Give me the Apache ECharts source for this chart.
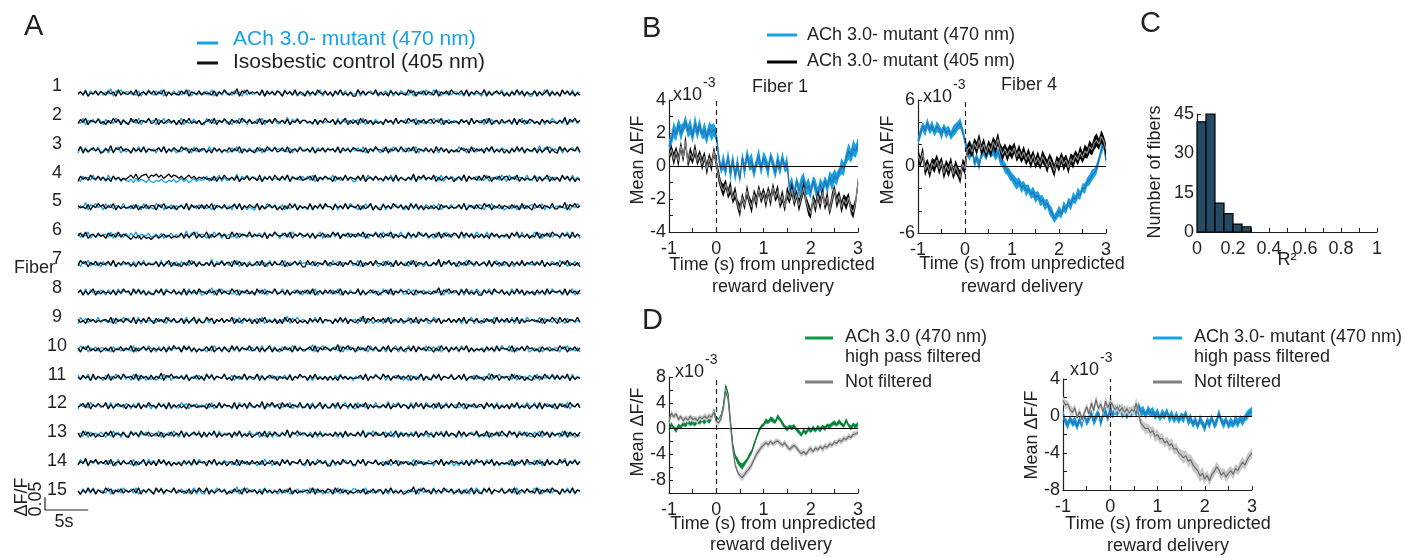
<!DOCTYPE html>
<html>
<head>
<meta charset="utf-8">
<script src="https://cdn.jsdelivr.net/npm/echarts@6/dist/echarts.min.js"></script>
<style>
  html, body { margin: 0; padding: 0; background: #ffffff; }
  #fig { width: 1424px; height: 558px; }
</style>
</head>
<body>
<div id="fig"></div>
<script>
// ---------------- Panel A: raw photometry traces, 15 fibers ----------------
// Each trace is stored as a string of levels (0-9, centre 5); one level = TRACE_STEP dF/F.
const TRACE_STEP = 0.0042;
const TRACE_SECONDS = 58;
const FIBER_LABELS = ['1','2','3','4','5','6','7','8','9','10','11','12','13','14','15'];

const TRACE_405 = [
  '4637254736 5374628364 4738256374 7364826354 3748265473 6453726485 3649275846 5638274637 5274638365 2746385473 6274835362 2847365483 6352746354 3857264736 5382647385 4573826475 4826357462 5263847264 4726358263 6284736253',
  '3748265473 5263847264 2847365483 4826357462 6274835362 4573826475 2746385473 5382647385 4637254736 6453726485 4726358263 6284736253 5274638365 3857264736 7364826354 5374628364 4738256374 5638274637 6352746354 3649275846',
  '4826357462 3649275846 5274638365 4573826475 3857264736 6352746354 7364826354 2746385473 4738256374 4637254736 5638274637 6453726485 5382647385 3748265473 6284736253 5374628364 6274835362 5263847264 4726358263 2847365483',
  '2746385473 6352746354 6859478958 7968579687 5746857465 6453726485 4637254736 5382647385 3748265473 4573826475 5274638365 4738256374 5374628364 3649275846 4826357462 5638274637 3857264736 7364826354 4726358263 6284736253',
  '6453726485 7364826354 4637254736 6274835362 5638274637 3748265473 4573826475 4826357462 5263847264 5382647385 5274638365 4726358263 2746385473 6284736253 6352746354 4738256374 3857264736 5374628364 2847365483 3649275846',
  '4738256374 5274638365 3142514231 3524635243 4726358263 4826357462 2847365483 6453726485 4573826475 4637254736 3857264736 3748265473 7364826354 2746385473 5638274637 6284736253 6352746354 6274835362 5382647385 5374628364',
  '3857264736 4573826475 6352746354 4726358263 5263847264 4637254736 6284736253 4738256374 4826357462 2847365483 6453726485 5382647385 5374628364 3748265473 3649275846 2746385473 5638274637 5274638365 7364826354 6274835362',
  '4726358263 6453726485 6284736253 3748265473 5382647385 5374628364 3857264736 2847365483 4637254736 4738256374 7364826354 4826357462 4573826475 6352746354 3649275846 6274835362 2746385473 5263847264 5274638365 5638274637',
  '6352746354 5638274637 5382647385 2746385473 4726358263 3857264736 4826357462 6274835362 6284736253 5274638365 5263847264 3649275846 4738256374 4573826475 4637254736 3748265473 5374628364 7364826354 6453726485 2847365483',
  '6274835362 4637254736 4826357462 6453726485 6284736253 4738256374 2847365483 4726358263 5374628364 4573826475 3649275846 2746385473 3748265473 5638274637 5263847264 7364826354 5274638365 5382647385 6352746354 3857264736',
  '5374628364 5382647385 5638274637 3649275846 4637254736 2847365483 5274638365 4826357462 6453726485 6274835362 6352746354 4573826475 3857264736 4726358263 3748265473 4738256374 5263847264 6284736253 2746385473 7364826354',
  '4573826475 4826357462 6453726485 5374628364 6352746354 5274638365 5382647385 3649275846 2847365483 4726358263 3748265473 7364826354 4637254736 5263847264 4738256374 3857264736 6284736253 6274835362 5638274637 2746385473',
  '6284736253 3748265473 2746385473 4637254736 4826357462 7364826354 6274835362 4573826475 3649275846 6352746354 5374628364 4738256374 4726358263 6453726485 5274638365 2847365483 5382647385 3857264736 5263847264 5638274637',
  '3649275846 4738256374 4726358263 6284736253 5274638365 6274835362 5638274637 4637254736 2847365483 4826357462 2746385473 3748265473 5263847264 6352746354 4573826475 6453726485 7364826354 5382647385 5374628364 3857264736',
  '5263847264 3857264736 4573826475 2847365483 6453726485 4826357462 5374628364 6352746354 7364826354 5638274637 6284736253 4637254736 6274835362 3649275846 2746385473 4726358263 3748265473 4738256374 5382647385 5274638365'
];

const TRACE_470 = [
  '5638274637 3649275846 6453726485 3748265473 7364826354 4738256374 5374628364 4637254736 6284736253 4726358263 5263847264 4826357462 4573826475 5382647385 3857264736 6352746354 2847365483 6274835362 2746385473 5274638365',
  '5382647385 2746385473 4573826475 6274835362 4826357462 2847365483 5263847264 3748265473 3649275846 6352746354 5638274637 4738256374 5374628364 7364826354 3857264736 5274638365 6284736253 4726358263 6453726485 4637254736',
  '2847365483 4726358263 5263847264 6274835362 5374628364 6284736253 3748265473 5382647385 6453726485 5638274637 4637254736 4738256374 2746385473 7364826354 6352746354 3857264736 4573826475 5274638365 3649275846 4826357462',
  '5274638365 6284736253 2415243142 1324213241 3524135243 4726358263 3649275846 6352746354 5638274637 4738256374 4826357462 2746385473 5263847264 4637254736 4573826475 3748265473 5382647385 2847365483 3857264736 5374628364',
  '3649275846 2847365483 5374628364 3857264736 4738256374 6352746354 6284736253 2746385473 4726358263 5274638365 5382647385 5263847264 4826357462 4573826475 3748265473 5638274637 6274835362 4637254736 7364826354 6453726485',
  '7364826354 5638274637 3748265473 4637254736 3649275846 5263847264 6352746354 4573826475 2746385473 4726358263 4738256374 6453726485 2847365483 4826357462 5274638365 5382647385 6284736253 5374628364 3857264736 6274835362',
  '6274835362 7364826354 5274638365 5638274637 2746385473 3649275846 3748265473 5374628364 5382647385 6453726485 2847365483 4826357462 4738256374 6284736253 4637254736 5263847264 4726358263 6352746354 4573826475 3857264736',
  '5638274637 5274638365 5263847264 2746385473 6274835362 3649275846 6352746354 4573826475 4826357462 7364826354 4738256374 4637254736 2847365483 3857264736 5374628364 5382647385 3748265473 6284736253 6453726485 4726358263',
  '2847365483 6453726485 7364826354 5374628364 3748265473 4637254736 4573826475 4738256374 3649275846 5263847264 5274638365 6284736253 6274835362 4826357462 3857264736 4726358263 2746385473 5382647385 5638274637 6352746354',
  '3857264736 6352746354 5382647385 5274638365 7364826354 5263847264 5638274637 3748265473 2746385473 3649275846 4573826475 5374628364 4726358263 2847365483 4738256374 6284736253 6453726485 4826357462 4637254736 6274835362',
  '7364826354 2746385473 6284736253 5263847264 4738256374 3748265473 4726358263 3857264736 4573826475 6352746354 6274835362 6453726485 4826357462 5274638365 2847365483 4637254736 3649275846 5638274637 5382647385 5374628364',
  '2746385473 5638274637 6274835362 6284736253 3857264736 4738256374 5263847264 4637254736 7364826354 3748265473 4726358263 2847365483 3649275846 5382647385 5274638365 6352746354 5374628364 6453726485 4826357462 4573826475',
  '5638274637 5263847264 3857264736 5382647385 2847365483 5274638365 6453726485 4726358263 4738256374 5374628364 6352746354 3649275846 4573826475 6274835362 7364826354 4826357462 4637254736 2746385473 3748265473 6284736253',
  '3857264736 5374628364 5382647385 7364826354 6453726485 4573826475 6352746354 5263847264 3748265473 2746385473 4826357462 2847365483 4637254736 5638274637 6274835362 5274638365 6284736253 4726358263 4738256374 3649275846',
  '5274638365 5382647385 4738256374 3748265473 4726358263 2746385473 3649275846 6274835362 4637254736 6284736253 5638274637 7364826354 6352746354 5374628364 4826357462 6453726485 2847365483 4573826475 3857264736 5263847264'
];

// ---------------- Panels B and D: event-aligned means (x10^-3 dF/F) ----------------
// Sampled every 0.05 s from -1 s to 3 s around reward delivery.
const TIME = Array.from({ length: 81 }, (_, i) => -1 + i * 0.05);

const F1_470_MEAN = [1.2,1.6,2.2,1.9,2.5,2.0,2.3,2.7,2.1,2.4,1.8,2.6,2.0,2.5,1.9,2.2,1.7,2.3,2.0,2.2,
  1.9,0.6,-0.2,0.3,-0.3,0.6,-0.5,0.4,-0.6,0.2,-0.8,0.5,-0.3,0.7,0.1,0.3,-0.4,0.2,0.6,-0.2,
  0.5,0.2,-0.3,0.6,0.1,-0.4,0.4,-0.2,0.5,-0.1,0.2,-1.4,-1.0,-1.8,-0.9,-1.5,-1.1,-0.8,-1.4,-1.2,
  -1.6,-0.9,-1.3,-1.7,-1.1,-1.5,-0.9,-1.3,-0.7,-1.0,-0.6,-0.8,-0.4,0.0,-0.2,0.5,0.9,0.6,1.1,0.9,1.3];
const F1_405_MEAN = [0.6,1.0,0.4,0.9,0.3,1.2,0.5,1.5,0.2,0.8,0.4,1.0,0.3,0.7,0.1,0.6,-0.2,0.5,0.0,0.9,
  0.2,-0.6,-1.2,-1.5,-1.1,-1.7,-1.3,-2.0,-1.6,-2.3,-2.7,-1.9,-2.4,-1.5,-2.1,-2.5,-1.7,-2.2,-1.4,-2.0,
  -1.6,-2.2,-1.5,-2.1,-1.3,-1.9,-1.5,-2.3,-1.8,-2.5,-1.6,-2.0,-1.4,-2.2,-1.7,-2.4,-1.9,-1.3,-2.1,-2.6,
  -2.9,-2.0,-2.5,-1.8,-2.3,-1.6,-2.4,-1.9,-2.7,-2.0,-1.4,-2.2,-1.8,-2.5,-2.0,-2.3,-1.9,-2.6,-2.8,-2.2,-1.0];
const F1_470_SEM = '4454453445 4544354454 4435445445 3454454354 4453445443 5445345445 4354453445 4435445454 4';
const F1_405_SEM = '3343433434 3433434343 3434334343 4334343433 3434334343 4343343434 3343433434 3434343343 3';

const F4_470_MEAN = [2.3,3.0,3.6,3.2,3.9,3.3,3.7,3.1,3.6,3.4,2.9,3.5,3.0,3.3,2.8,3.2,3.4,3.7,3.9,3.2,
  2.3,1.4,0.9,1.7,0.3,0.8,0.1,1.1,1.4,1.0,1.6,1.2,1.5,0.9,1.3,0.6,0.3,-0.1,-0.4,-0.7,
  -1.0,-1.3,-1.6,-1.4,-1.9,-1.7,-2.2,-2.0,-2.5,-2.3,-2.8,-2.6,-3.1,-3.0,-3.5,-3.3,-3.9,-4.2,-4.7,-4.4,
  -4.0,-4.3,-3.6,-3.9,-3.2,-3.5,-2.8,-3.0,-2.4,-2.6,-1.9,-2.0,-1.4,-1.2,-0.8,-0.6,-0.2,0.6,1.5,2.0,0.6];
const F4_405_MEAN = [1.0,0.4,1.2,-0.3,0.2,-0.5,0.3,0.0,0.6,-0.2,0.4,-0.6,0.1,-0.4,0.3,-0.7,0.0,-0.5,-1.0,0.2,
  -0.2,1.5,1.8,1.3,2.1,1.6,2.4,1.5,2.0,1.2,1.9,1.4,2.2,1.7,2.5,1.6,1.1,1.6,1.0,1.5,
  1.2,1.7,0.9,1.4,0.8,1.3,0.6,1.1,0.4,1.0,0.3,0.8,0.2,0.9,0.5,0.0,0.7,0.2,-0.4,0.5,
  0.1,0.8,0.2,0.6,-0.1,0.7,0.4,1.0,0.6,1.3,0.8,1.4,1.2,1.8,1.5,2.1,2.4,2.0,2.7,2.3,1.5];
const F4_470_SEM = '4545545454 5454455454 4545545445 5454454545 4554545445 5454545544 5454455454 4545545454 5';
const F4_405_SEM = '6566565656 5656656565 6565566565 5656656565 6556565665 5656565665 6565656556 5656566565 6';

const ACH_HPF_MEAN = [-0.2,0.6,0.1,-0.3,0.4,0.2,0.8,0.5,1.1,0.7,1.0,0.6,1.2,0.9,1.3,1.0,1.4,1.1,1.6,2.8,
  1.6,1.2,1.9,3.5,6.6,5.4,1.2,-2.5,-4.3,-5.0,-5.6,-5.9,-5.4,-4.9,-4.2,-3.6,-2.5,-1.4,-0.4,0.3,
  0.6,1.2,1.0,1.5,1.3,1.0,1.9,1.4,0.8,0.3,-0.1,0.3,0.1,0.4,-0.2,-0.5,-1.0,-0.3,-0.7,0.0,
  -0.4,0.1,-0.3,0.2,-0.2,0.3,0.0,0.5,0.3,0.7,0.9,0.6,1.1,0.7,0.4,1.3,0.5,0.1,0.6,0.3,0.7];
const ACH_RAW_MEAN = [1.0,2.4,1.8,2.3,1.4,1.9,1.2,1.7,1.3,1.9,1.4,1.6,1.2,1.8,1.5,1.9,1.6,2.0,1.8,2.5,
  1.1,0.9,1.5,3.0,5.8,4.6,0.6,-3.2,-5.6,-6.7,-7.3,-7.6,-7.1,-6.6,-6.2,-5.6,-4.8,-4.0,-3.5,-2.9,
  -2.6,-2.2,-2.5,-2.0,-2.4,-2.1,-1.9,-2.3,-2.6,-2.2,-2.8,-3.2,-2.9,-2.6,-3.0,-3.5,-3.9,-3.6,-4.0,-3.4,
  -3.1,-3.6,-3.0,-3.3,-2.8,-3.2,-2.7,-2.9,-2.4,-2.6,-2.1,-2.3,-1.8,-2.0,-1.5,-1.7,-1.2,-1.4,-0.9,-0.8,-0.6];
const ACH_HPF_SEM = '3434434343 4343343434 3443434345 4543434343 3434434343 4343343434 3434434343 4343343434 3';
const ACH_RAW_SEM = '4545545454 5454455454 4545545445 5656565656 5454454545 5454545545 5454455454 4545545454 4';

const MUT_HPF_MEAN = [0.2,-0.6,-1.0,-0.3,-0.8,-0.5,-1.1,-0.4,-0.9,0.1,-0.7,-0.2,0.3,-0.6,-0.1,0.4,-0.8,0.2,0.5,-0.3,
  0.9,0.1,0.7,0.3,0.9,0.2,0.6,0.0,0.5,0.2,0.8,0.3,1.1,0.4,0.6,0.1,0.7,0.3,0.5,0.0,
  0.4,-0.2,0.3,0.0,0.5,-0.3,0.2,-0.4,0.1,-0.5,0.0,-0.3,0.3,-0.6,-0.2,-0.9,-0.4,-1.1,-0.3,-0.8,
  -1.3,-0.5,-0.9,-0.2,-1.0,-0.6,0.3,-0.5,-0.9,-0.4,-1.0,-0.6,-0.9,-0.4,-0.8,-0.3,-0.6,-0.2,0.1,0.4,0.5];
const MUT_RAW_MEAN = [1.7,1.2,1.3,0.7,0.4,0.9,-0.2,0.5,-0.4,0.3,1.0,0.2,1.4,0.6,1.8,0.8,1.3,0.4,1.6,0.9,
  1.5,1.2,0.7,1.0,0.5,0.9,0.4,0.8,0.3,0.7,0.5,1.4,0.2,-0.8,-1.1,-1.4,-1.3,-1.8,-1.6,-2.2,
  -2.0,-2.5,-2.4,-2.9,-2.7,-3.2,-3.0,-3.6,-3.5,-4.0,-4.2,-4.5,-4.3,-4.9,-4.7,-5.3,-5.6,-5.9,-6.5,-6.2,
  -6.8,-6.4,-7.0,-6.3,-6.0,-5.5,-5.8,-6.4,-6.1,-6.6,-6.2,-5.9,-6.3,-5.7,-5.9,-5.4,-5.0,-5.3,-4.7,-4.3,-4.0];
const MUT_HPF_SEM = '5454455454 4545545454 5454455454 4545545454 5454455454 4545545454 5454455454 4545545454 5';
const MUT_RAW_SEM = '4545545454 4545545454 5454455454 5656565656 6565566565 6767676767 6566565656 6565566565 6';

// ---------------- Panel C: histogram of R^2 between channels ----------------
const R2_BIN_EDGES = [0, 0.05, 0.1, 0.15, 0.2, 0.25, 0.3];
const R2_COUNTS = [42, 45, 11, 7, 3, 2];

// ---------------- styling ----------------
const FONT = '"Liberation Sans", Arial, Helvetica, sans-serif';
const INK = '#231f20';
const C_BLUE = '#17a2e4', C_BLUE_MEAN = '#2f6fae';
const C_BLACK = '#050505', C_BLACK_MEAN = '#8a8a8a';
const C_GREEN = '#0b9c48', C_GREEN_MEAN = '#137438';
const C_GRAY = '#c8c8c8', C_GRAY_MEAN = '#6c6c6c';
const C_BAR = '#274a64';

const levels = s => s.replace(/\s+/g, '').split('').map(c => c.charCodeAt(0) - 48);
const traceVals = s => levels(s).map(d => (d - 5) * TRACE_STEP);
const semVals = s => levels(s).map(d => d * 0.1);

// ---------------- layout ----------------
const grids = [], xAxes = [], yAxes = [], series = [];
function addGrid(left, top, width, height) {
  grids.push({ left, top, width, height, outerBoundsMode: 'none', containLabel: false });
  return grids.length - 1;
}
const labelStyle = { color: INK, fontFamily: FONT, fontSize: 18 };
function timeAxis(g) {
  return { type: 'value', gridIndex: g, min: -1, max: 3, interval: 0.5,
    axisLine: { show: true, onZero: false, lineStyle: { color: INK, width: 1.2 } },
    axisTick: { show: true, inside: true, length: 4, lineStyle: { color: INK, width: 1 } },
    axisLabel: Object.assign({ margin: 8, formatter: v => Number.isInteger(v) ? String(v) : '' }, labelStyle),
    splitLine: { show: false } };
}
function valueAxis(g, min, max, interval, every) {
  return { type: 'value', gridIndex: g, min, max, interval,
    axisLine: { show: true, onZero: false, lineStyle: { color: INK, width: 1.2 } },
    axisTick: { show: true, inside: true, length: 4, lineStyle: { color: INK, width: 1 } },
    axisLabel: Object.assign({ margin: 3, formatter: v => Math.abs(v % every) < 1e-9 ? String(v) : '' }, labelStyle),
    splitLine: { show: false } };
}
function band(g, mean, semStr, color, z) {
  const sem = semVals(semStr);
  const pts = TIME.map((t, i) => [t, mean[i] - sem[i], mean[i] + sem[i]]);
  return { type: 'custom', xAxisIndex: g, yAxisIndex: g, silent: true, z, clip: true,
    data: pts, encode: { x: 0, y: [1, 2] },
    renderItem(params, api) {
      if (params.dataIndex !== 0) return null;
      const up = pts.map(p => api.coord([p[0], p[2]]));
      const dn = pts.map(p => api.coord([p[0], p[1]])).reverse();
      return { type: 'polygon', shape: { points: up.concat(dn) }, style: { fill: color } };
    } };
}
function meanLine(g, mean, color, z) {
  return { type: 'line', xAxisIndex: g, yAxisIndex: g, silent: true, z,
    data: TIME.map((t, i) => [t, mean[i]]), symbol: 'none',
    lineStyle: { color, width: 1.2 } };
}
function refLines(g) {
  return { type: 'line', xAxisIndex: g, yAxisIndex: g, silent: true, z: 20,
    data: [[0, 0]], symbol: 'none', lineStyle: { opacity: 0 },
    markLine: { silent: true, symbol: 'none', label: { show: false }, animation: false,
      data: [
        { yAxis: 0, lineStyle: { type: 'solid', color: '#000', width: 1.2 } },
        { xAxis: 0, lineStyle: { type: [5, 4], color: INK, width: 1.2 } }
      ] } };
}
function eventPanel(g, yMin, yMax, yInt, yEvery, layers) {
  xAxes.push(timeAxis(g));
  yAxes.push(valueAxis(g, yMin, yMax, yInt, yEvery));
  layers.forEach((L, k) => {
    series.push(band(g, L.mean, L.sem, L.band, 2 + 2 * k));
    series.push(meanLine(g, L.mean, L.line, 3 + 2 * k));
  });
  series.push(refLines(g));
}

// Panel B, fiber 1 and fiber 4
const gB1 = addGrid(669, 100, 189, 132);
eventPanel(gB1, -4, 4, 1, 2, [
  { mean: F1_470_MEAN, sem: F1_470_SEM, band: C_BLUE, line: C_BLUE_MEAN },
  { mean: F1_405_MEAN, sem: F1_405_SEM, band: C_BLACK, line: C_BLACK_MEAN }
]);
const gB4 = addGrid(918, 100, 188, 133);
eventPanel(gB4, -6, 6, 2, 6, [
  { mean: F4_470_MEAN, sem: F4_470_SEM, band: C_BLUE, line: C_BLUE_MEAN },
  { mean: F4_405_MEAN, sem: F4_405_SEM, band: C_BLACK, line: C_BLACK_MEAN }
]);

// Panel C histogram
const gC = addGrid(1197, 114, 180, 118);
xAxes.push({ type: 'value', gridIndex: gC, min: 0, max: 1, interval: 0.1,
  axisLine: { show: true, onZero: false, lineStyle: { color: INK, width: 1.2 } },
  axisTick: { show: true, inside: true, length: 4, lineStyle: { color: INK } },
  axisLabel: Object.assign({ margin: 8, formatter: v => {
    const r = Math.round(v * 10);
    if (r % 2) return '';
    return r === 0 ? '0' : r === 10 ? '1' : (r / 10).toString();
  } }, labelStyle),
  splitLine: { show: false } });
yAxes.push(valueAxis(gC, 0, 45, 5, 15));
series.push({ type: 'custom', xAxisIndex: gC, yAxisIndex: gC, silent: true, z: 5,
  data: R2_COUNTS.map((c, i) => [R2_BIN_EDGES[i], R2_BIN_EDGES[i + 1], c]),
  encode: { x: [0, 1], y: 2 },
  renderItem(params, api) {
    const a = api.coord([api.value(0), api.value(2)]);
    const b = api.coord([api.value(1), 0]);
    return { type: 'rect', shape: { x: a[0], y: a[1], width: b[0] - a[0], height: b[1] - a[1] },
      style: { fill: C_BAR, stroke: '#000', lineWidth: 1.2 } };
  } });

// Panel D, high-pass filtered vs raw
const gD1 = addGrid(669, 377, 189, 116);
eventPanel(gD1, -10, 8, 2, 4, [
  { mean: ACH_HPF_MEAN, sem: ACH_HPF_SEM, band: C_GREEN, line: C_GREEN_MEAN },
  { mean: ACH_RAW_MEAN, sem: ACH_RAW_SEM, band: C_GRAY, line: C_GRAY_MEAN }
]);
const gD2 = addGrid(1063, 379, 189, 111);
eventPanel(gD2, -8, 4, 2, 4, [
  { mean: MUT_HPF_MEAN, sem: MUT_HPF_SEM, band: C_BLUE, line: C_BLUE_MEAN },
  { mean: MUT_RAW_MEAN, sem: MUT_RAW_SEM, band: C_GRAY, line: C_GRAY_MEAN }
]);

// Panel A: one strip per fiber
const A_LEFT = 78, A_WIDTH = 502, A_TOP = 93, A_PITCH = 28.43, A_H = 28, A_RANGE = 0.055;
TRACE_405.forEach((s405, i) => {
  const g = addGrid(A_LEFT, A_TOP + A_PITCH * i - A_H / 2, A_WIDTH, A_H);
  const v405 = traceVals(s405), v470 = traceVals(TRACE_470[i]);
  xAxes.push({ type: 'category', gridIndex: g, boundaryGap: false, show: false,
    data: v405.map((_, k) => k) });
  yAxes.push({ type: 'value', gridIndex: g, min: -A_RANGE, max: A_RANGE, show: false });
  series.push({ type: 'line', xAxisIndex: g, yAxisIndex: g, data: v470, symbol: 'none', silent: true,
    lineStyle: { color: C_BLUE, width: 1.3 }, z: 2 });
  series.push({ type: 'line', xAxisIndex: g, yAxisIndex: g, data: v405, symbol: 'none', silent: true,
    lineStyle: { color: C_BLACK, width: 1.3 }, z: 3 });
});
// scale bar: 5 s by 0.05 dF/F, same pixel scale as the strips
const pxPerSec = A_WIDTH / TRACE_SECONDS, pxPerUnit = A_H / (2 * A_RANGE);
const SB_X = 45, SB_BOTTOM = 510;
const gS = addGrid(SB_X, SB_BOTTOM - 0.05 * pxPerUnit, 5 * pxPerSec, 0.05 * pxPerUnit);
xAxes.push({ type: 'value', gridIndex: gS, min: 0, max: 5, show: false });
yAxes.push({ type: 'value', gridIndex: gS, min: 0, max: 0.05, show: false });
series.push({ type: 'line', xAxisIndex: gS, yAxisIndex: gS, data: [[0, 0.05], [0, 0], [5, 0]],
  symbol: 'none', silent: true, clip: false, lineStyle: { color: INK, width: 1.2 } });

// ---------------- text & legend keys ----------------
const graphics = [];
function txt(text, x, y, opt = {}) {
  const size = opt.size || 18;
  graphics.push({ type: 'text', x, y, rotation: opt.rot || 0, silent: true, z: 100,
    style: { text, fill: opt.color || INK, font: `${size}px ${FONT}`,
      align: opt.align || 'center', verticalAlign: 'middle',
      textAlign: opt.align || 'center', textVerticalAlign: 'middle' } });
}
function key(x1, x2, y, color, w = 3) {
  graphics.push({ type: 'line', silent: true, z: 100, shape: { x1, y1: y, x2, y2: y },
    style: { stroke: color, lineWidth: w } });
}
function power(x, y) {
  txt('x10', x, y, { align: 'left' });
  txt('-3', x + 30, y - 12, { align: 'left', size: 14 });
}
const ROT = Math.PI / 2;

// panel letters
txt('A', 24, 27, { align: 'left', size: 29 });
txt('B', 642, 29, { align: 'left', size: 29 });
txt('C', 1140, 24, { align: 'left', size: 29 });
txt('D', 642, 321, { align: 'left', size: 29 });

// A legend, fiber numbers, scale bar labels
key(197, 218, 43, C_BLUE);
txt('ACh 3.0- mutant (470 nm)', 233, 39, { align: 'left', size: 21, color: C_BLUE });
key(197, 218, 63, '#111');
txt('Isosbestic control (405 nm)', 233, 62, { align: 'left', size: 21 });
FIBER_LABELS.forEach((lab, i) => txt(lab, 57, 86 + 28.86 * i));
txt('Fiber', 14, 268, { align: 'left' });
txt('\u0394F/F', 22, 497, { rot: ROT });
txt('0.05', 36, 499, { rot: ROT });
txt('5s', 64, 522);

// B legend and titles
key(767, 797, 35, C_BLUE);
txt('ACh 3.0- mutant (470 nm)', 807, 35, { align: 'left' });
key(767, 797, 62, '#000');
txt('ACh 3.0- mutant (405 nm)', 807, 61, { align: 'left' });
txt('Fiber 1', 780, 87);
txt('Fiber 4', 1029, 85);
power(673, 95);
power(923, 97);
txt('Mean \u0394F/F', 638, 160, { rot: ROT });
txt('Mean \u0394F/F', 888, 160, { rot: ROT });
txt('Time (s) from unpredicted', 772, 265);
txt('reward delivery', 773, 287);
txt('Time (s) from unpredicted', 1022, 264);
txt('reward delivery', 1022, 287);

// C titles
txt('Number of fibers', 1155, 172, { rot: ROT });
txt('R\u00b2', 1287, 260);

// D legends and titles
key(805, 833, 338, C_GREEN);
txt('ACh 3.0 (470 nm)', 845, 337, { align: 'left' });
txt('high pass filtered', 845, 357, { align: 'left' });
key(805, 833, 382, '#808080');
txt('Not filtered', 845, 382, { align: 'left' });
key(1153, 1182, 338, C_BLUE);
txt('ACh 3.0- mutant (470 nm)', 1194, 337, { align: 'left' });
txt('high pass filtered', 1194, 357, { align: 'left' });
key(1153, 1182, 382, '#808080');
txt('Not filtered', 1194, 382, { align: 'left' });
power(675, 372);
power(1070, 370);
txt('Mean \u0394F/F', 638, 432, { rot: ROT });
txt('Mean \u0394F/F', 1032, 435, { rot: ROT });
txt('Time (s) from unpredicted', 773, 524);
txt('reward delivery', 771, 545);
txt('Time (s) from unpredicted', 1168, 524);
txt('reward delivery', 1168, 546);

const chart = echarts.init(document.getElementById('fig'), null, { renderer: 'canvas' });
chart.setOption({
  animation: false,
  backgroundColor: '#ffffff',
  grid: grids,
  xAxis: xAxes,
  yAxis: yAxes,
  series,
  graphic: graphics
});
</script>
</body>
</html>
